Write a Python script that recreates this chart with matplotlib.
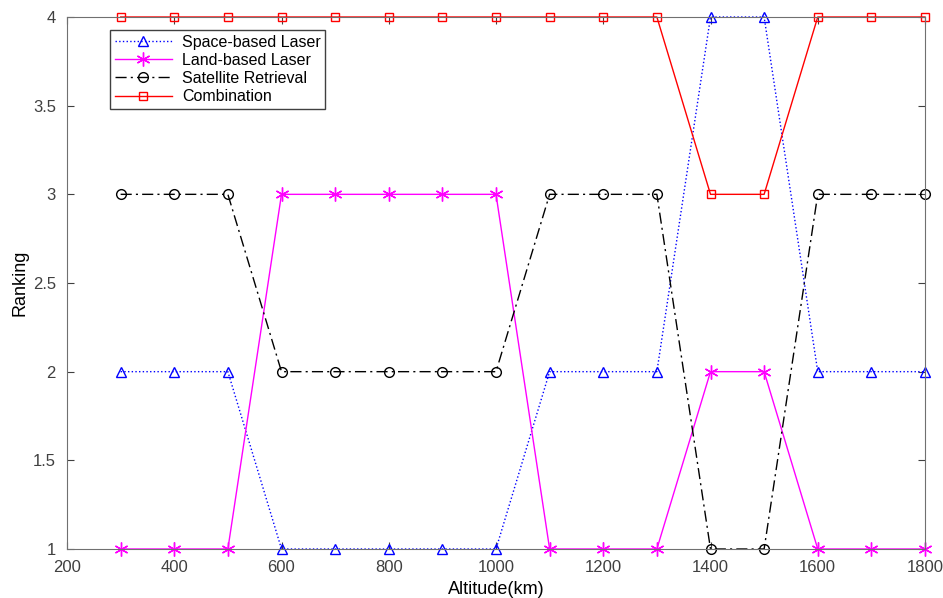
import numpy as np
import matplotlib.pyplot as plt

plt.rcParams['font.family'] = ['Liberation Sans', 'DejaVu Sans']

# data
altitude = [300, 400, 500, 600, 700, 800, 900, 1000, 1100, 1200, 1300, 1400, 1500, 1600, 1700, 1800]
space_laser = [2, 2, 2, 1, 1, 1, 1, 1, 2, 2, 2, 4, 4, 2, 2, 2]
land_laser = [1, 1, 1, 3, 3, 3, 3, 3, 1, 1, 1, 2, 2, 1, 1, 1]
satellite = [3, 3, 3, 2, 2, 2, 2, 2, 3, 3, 3, 1, 1, 3, 3, 3]
combination = [4, 4, 4, 4, 4, 4, 4, 4, 4, 4, 4, 3, 3, 4, 4, 4]

fig = plt.figure(figsize=(9.43, 5.98), dpi=100)
ax = fig.add_axes([67/943, 49/598, 858/943, 532/598])

ax.plot(altitude, space_laser, color='#0000ff', linestyle=':', marker='^', markersize=7,
        markerfacecolor='none', linewidth=1, label='Space-based Laser', clip_on=False)
ax.plot(altitude, land_laser, color='#ff00ff', linestyle='-', marker=(6, 2, 0), markersize=10,
        markerfacecolor='none', linewidth=1, label='Land-based Laser', clip_on=False)
ax.plot(altitude, satellite, color='black', linestyle=(0, (8, 3, 1.5, 3)), marker='o', markersize=7,
        markerfacecolor='none', linewidth=1, label='Satellite Retrieval', clip_on=False)
ax.plot(altitude, combination, color='#ff0000', linestyle='-', marker='s', markersize=6,
        markerfacecolor='none', linewidth=1, label='Combination', clip_on=False)

ax.set_xlim(200, 1800)
ax.set_ylim(1, 4)
ax.set_xticks(np.arange(200, 1801, 200))
ax.set_yticks([1, 1.5, 2, 2.5, 3, 3.5, 4])
ax.set_yticklabels(['1', '1.5', '2', '2.5', '3', '3.5', '4'])
ax.set_xlabel('Altitude(km)', fontsize=13, labelpad=4)
ax.set_ylabel('Ranking', fontsize=13, labelpad=3)
ax.tick_params(direction='in', labelsize=12, colors='#404040', top=True, right=True, length=5, pad=8)
for s in ax.spines.values():
    s.set_color('#707070')

leg = ax.legend(loc='upper left', bbox_to_anchor=(0.05, 0.976), fontsize=11.5, handlelength=3.6,
                fancybox=False, framealpha=1, borderpad=0.3, labelspacing=0.2, handletextpad=0.6,
                borderaxespad=0)
leg.get_frame().set_edgecolor('#404040')

plt.savefig('out.png')
